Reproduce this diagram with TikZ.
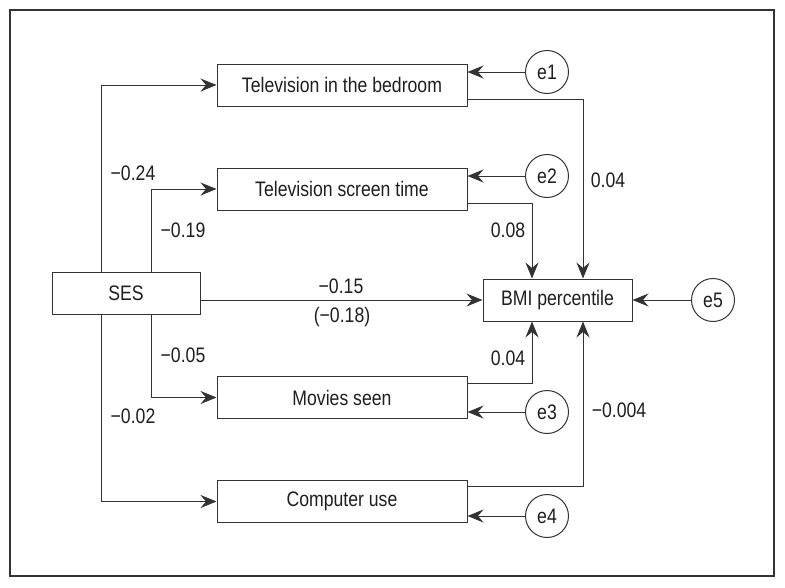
\documentclass[tikz,border=0pt]{standalone}
\usepackage{fontspec}
\setmainfont[FakeStretch=0.84]{Liberation Sans}
\usetikzlibrary{arrows.meta}
\definecolor{ink}{gray}{0.12}
\definecolor{linec}{gray}{0.2}
\tikzset{
  box/.style={draw=linec, line width=1pt, fill=white, inner sep=0pt, minimum height=42pt, text=ink, font=\fontsize{21}{24}\selectfont},
  errc/.style={draw=linec, line width=1pt, circle, inner sep=0pt, minimum size=43pt, text=ink, font=\fontsize{21}{24}\selectfont},
  arr/.style={draw=linec, line width=1pt, -{Stealth[length=16pt,width=13pt,inset=5.5pt]}},
  lab/.style={text=ink, inner sep=0pt, font=\fontsize{21}{24}\selectfont}
}
\begin{document}
\begin{tikzpicture}[x=1pt,y=-1pt]
\useasboundingbox (0,0) rectangle (785,587);
\fill[white] (0,0) rectangle (785,587);
\draw[linec, line width=1.8pt] (10,10) rectangle (774,576);
% boxes
\node[box, minimum width=250pt] (tvbed) at (342,85) {Television in the bedroom};
\node[box, minimum width=250pt] (tvst) at (342,189) {Television screen time};
\node[box, minimum width=148pt] (ses) at (126,293) {SES};
\node[box, minimum width=149pt] (bmi) at (557.5,300) {BMI percentile};
\node[box, minimum width=250pt] (mov) at (342,397.5) {Movies seen};
\node[box, minimum width=250pt] (comp) at (342,501.5) {Computer use};
% error circles
\node[errc] (e1) at (547,72) {e1};
\node[errc] (e2) at (547,176) {e2};
\node[errc] (e3) at (547,412) {e3};
\node[errc] (e4) at (547,516) {e4};
\node[errc] (e5) at (713,300) {e5};
% SES paths
\draw[arr] ([xshift=-25pt]ses.north) |- (tvbed.west);
\draw[arr] ([xshift=25pt]ses.north) |- (tvst.west);
\draw[arr] ([xshift=25pt]ses.south) |- (mov.west);
\draw[arr] ([xshift=-25pt]ses.south) |- (comp.west);
\draw[arr] (ses.east |- bmi.west) -- (bmi.west);
% to BMI
\draw[arr] ([yshift=-14pt]tvbed.east) -| ([xshift=25.5pt]bmi.north);
\draw[arr] ([yshift=-14pt]tvst.east) -| ([xshift=-25.5pt]bmi.north);
\draw[arr] ([yshift=14.5pt]mov.east) -| ([xshift=-25.5pt]bmi.south);
\draw[arr] ([yshift=15.5pt]comp.east) -| ([xshift=25.5pt]bmi.south);
% error arrows
\draw[arr] (e1.west) -- (tvbed.east |- e1.west);
\draw[arr] (e2.west) -- (tvst.east |- e2.west);
\draw[arr] (e3.west) -- (mov.east |- e3.west);
\draw[arr] (e4.west) -- (comp.east |- e4.west);
\draw[arr] (e5.west) -- (bmi.east);
% labels
\node[lab] (l1) at (133,173) {−0.24};
\node[lab] (l2) at (183,230) {−0.19};
\node[lab] (l3) at (341,286) {−0.15};
\node[lab] (l4) at (342,317) {(−0.18)};
\node[lab] (l5) at (183,355) {−0.05};
\node[lab] (l6) at (133,416) {−0.02};
\node[lab] (l7) at (608,180) {0.04};
\node[lab] (l8) at (508,230) {0.08};
\node[lab] (l9) at (508,358) {0.04};
\node[lab] (l10) at (619,410) {−0.004};
\end{tikzpicture}
\end{document}
